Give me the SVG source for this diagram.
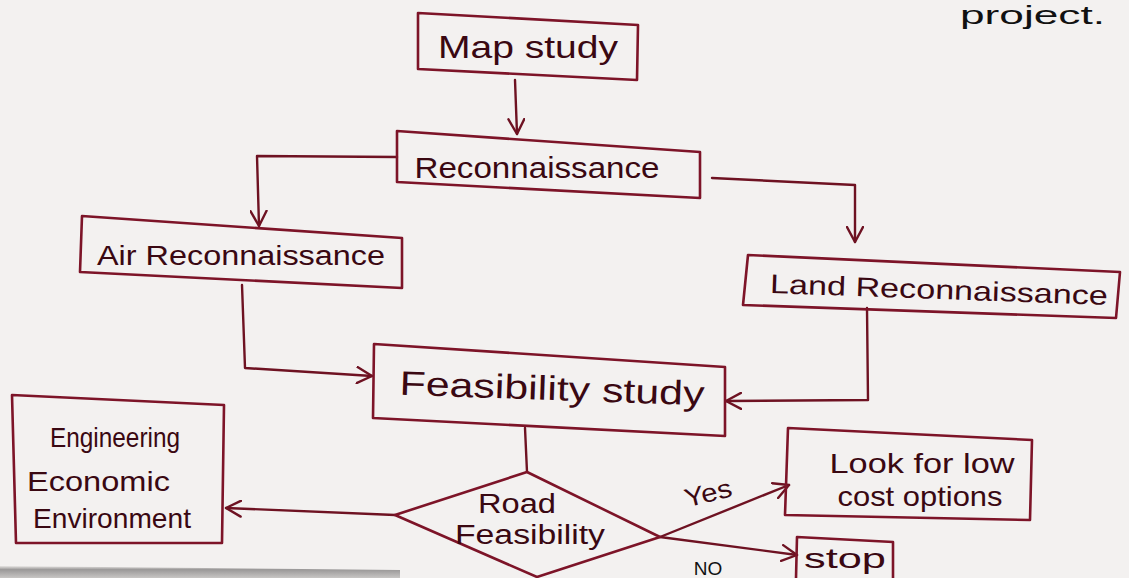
<svg xmlns="http://www.w3.org/2000/svg" width="1129" height="578" viewBox="0 0 1129 578">
<defs>
<style>
.box{fill:none;stroke:#7d1428;stroke-width:2.6;stroke-linejoin:round}
.conn{fill:none;stroke:#6e1222;stroke-width:2.4;stroke-linecap:round;stroke-linejoin:round}
.t{font-family:"Liberation Sans",Arial,sans-serif;fill:#3a0812}
.ink{font-family:"Liberation Sans",Arial,sans-serif;fill:#111}
</style>
<marker id="arr" viewBox="0 0 18 18" refX="16" refY="9" markerWidth="18" markerHeight="18" markerUnits="userSpaceOnUse" orient="auto">
<path d="M1,1 L16,9 L1,17" fill="none" stroke="#6e1222" stroke-width="2.4" stroke-linecap="round" stroke-linejoin="round"/>
</marker>
<linearGradient id="edge" x1="0" y1="0" x2="0" y2="1">
<stop offset="0" stop-color="#e6e4e2"/>
<stop offset="0.3" stop-color="#9a9898"/>
<stop offset="1" stop-color="#c8c6c4"/>
</linearGradient>
</defs>
<rect width="1129" height="578" fill="#f3f1f0"/>
<path d="M0,566 L400,570 L400,578 L0,578 Z" fill="url(#edge)"/>
<text class="ink" x="960" y="24" font-size="26" textLength="145" lengthAdjust="spacingAndGlyphs">project.</text>

<g id="connectors">
<path class="conn" d="M515,80 L517,134" marker-end="url(#arr)"/>
<path class="conn" d="M397,157 L257,156 L259,226" marker-end="url(#arr)"/>
<path class="conn" d="M712,178 L855,185 L855,242" marker-end="url(#arr)"/>
<path class="conn" d="M242,285 L245,368 L372,376" marker-end="url(#arr)"/>
<path class="conn" d="M867,308 L868,400 L726,401" marker-end="url(#arr)"/>
<path class="conn" d="M525,428 L527,472"/>
<path class="conn" d="M395,515 L226,508" marker-end="url(#arr)"/>
<path class="conn" d="M660,537 L789,485" marker-end="url(#arr)"/>
<path class="conn" d="M660,537 L797,555" marker-end="url(#arr)"/>
<text class="t" x="708" y="502" font-size="26" text-anchor="middle" textLength="48" lengthAdjust="spacingAndGlyphs" transform="rotate(-14 708 493)">Yes</text>
<text class="ink" x="708" y="575" font-size="19" text-anchor="middle">NO</text>
</g>

<g id="map-study">
<polygon class="box" points="418,13 638,25 637,80 418,69"/>
<text class="t" x="528" y="58" font-size="32" text-anchor="middle" textLength="180" lengthAdjust="spacingAndGlyphs">Map study</text>
</g>

<g id="reconnaissance">
<polygon class="box" points="397,131 700,152 700,198 397,182"/>
<text class="t" x="537" y="178" font-size="30" text-anchor="middle" textLength="245" lengthAdjust="spacingAndGlyphs">Reconnaissance</text>
</g>

<g id="air-reconnaissance">
<polygon class="box" points="82,216 402,238 402,288 80,272"/>
<text class="t" x="241" y="265" font-size="27" text-anchor="middle" textLength="288" lengthAdjust="spacingAndGlyphs">Air Reconnaissance</text>
</g>

<g id="land-reconnaissance">
<polygon class="box" points="748,255 1120,272 1116,318 743,305"/>
<text class="t" x="939" y="299" font-size="27" text-anchor="middle" textLength="338" lengthAdjust="spacingAndGlyphs" transform="rotate(2 939 290)">Land Reconnaissance</text>
</g>

<g id="feasibility-study">
<polygon class="box" points="374,344 725,367 725,436 373,418"/>
<text class="t" x="552" y="400" font-size="34" text-anchor="middle" textLength="305" lengthAdjust="spacingAndGlyphs" transform="rotate(2 552 390)">Feasibility study</text>
</g>

<g id="engineering">
<polygon class="box" points="12,395 224,405 222,543 16,543"/>
<text class="t" x="50" y="447" font-size="28" textLength="130" lengthAdjust="spacingAndGlyphs">Engineering</text>
<text class="t" x="27" y="491" font-size="28" textLength="143" lengthAdjust="spacingAndGlyphs">Economic</text>
<text class="t" x="33" y="528" font-size="28" textLength="158" lengthAdjust="spacingAndGlyphs">Environment</text>
</g>

<g id="road-feasibility">
<polygon class="box" points="527,472 660,537 537,577 395,515"/>
<text class="t" x="517" y="513" font-size="27" text-anchor="middle" textLength="78" lengthAdjust="spacingAndGlyphs">Road</text>
<text class="t" x="530" y="544" font-size="27" text-anchor="middle" textLength="150" lengthAdjust="spacingAndGlyphs">Feasibility</text>
</g>

<g id="low-cost">
<polygon class="box" points="788,428 1032,440 1030,520 785,515"/>
<text class="t" x="922" y="473" font-size="28" text-anchor="middle" textLength="185" lengthAdjust="spacingAndGlyphs">Look for low</text>
<text class="t" x="920" y="506" font-size="28" text-anchor="middle" textLength="165" lengthAdjust="spacingAndGlyphs">cost options</text>
</g>

<g id="stop">
<polyline class="box" points="796,578 797,537 893,542 893,578"/>
<text class="t" x="845" y="568" font-size="28" text-anchor="middle" textLength="82" lengthAdjust="spacingAndGlyphs">stop</text>
</g>
</svg>
